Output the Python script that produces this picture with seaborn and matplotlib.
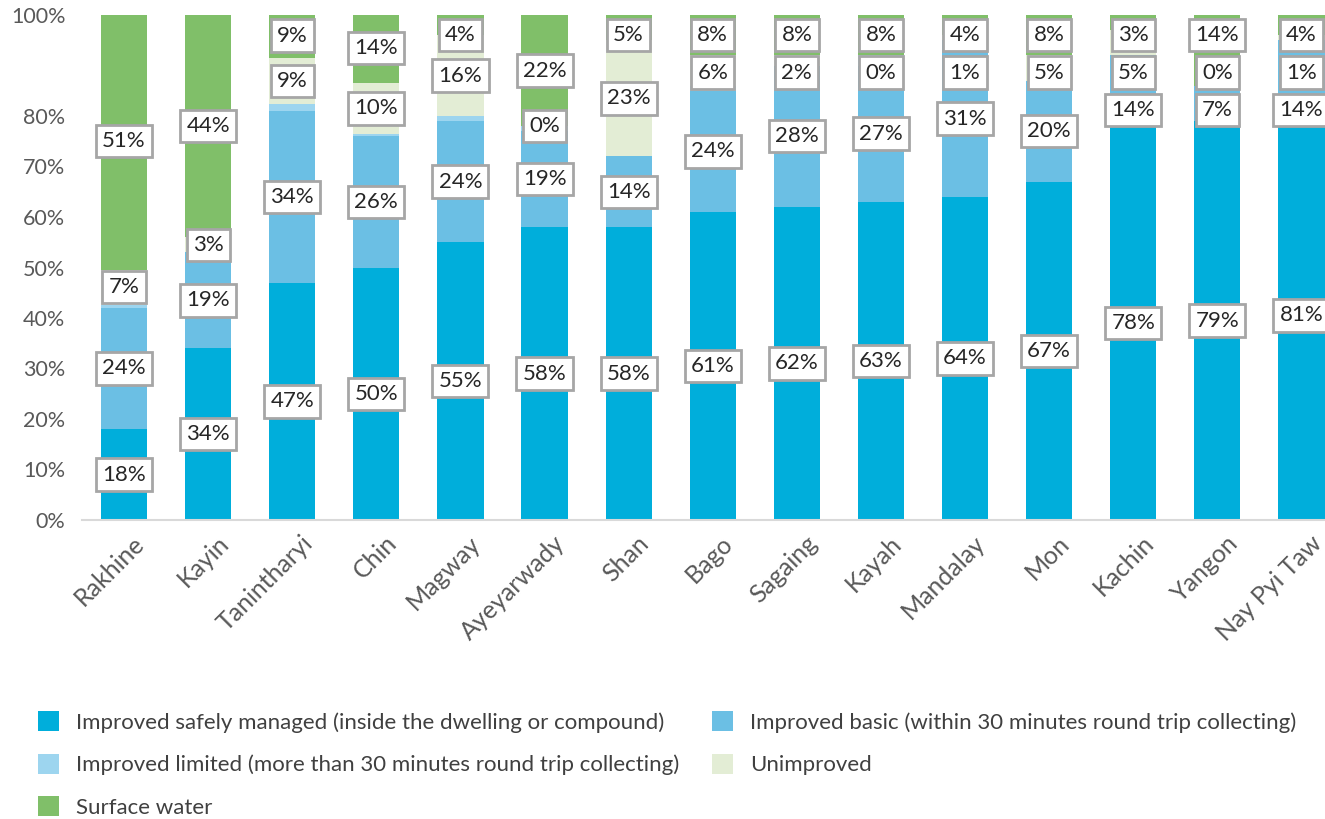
import numpy as np
import pandas as pd
import matplotlib
matplotlib.use("Agg")
import matplotlib.pyplot as plt
import matplotlib.transforms as mtransforms
from matplotlib.patches import Patch
import seaborn as sns

# Data (share of households by drinking water source, %)
regions = ["Rakhine", "Kayin", "Tanintharyi", "Chin", "Magway", "Ayeyarwady", "Shan",
           "Bago", "Sagaing", "Kayah", "Mandalay", "Mon", "Kachin", "Yangon", "Nay Pyi Taw"]
safely_managed = [18, 34, 47, 50, 55, 58, 58, 61, 62, 63, 64, 67, 78, 79, 81]
basic = [24, 19, 34, 26, 24, 19, 14, 24, 28, 27, 31, 20, 14, 7, 14]
limited = [0.6, 0, 1.4, 0.5, 1, 1, 0, 1, 0, 2, 0, 0, 0, 0, 0]   # not labelled, estimated
unimproved = [7, 3, 9, 10, 16, 0, 23, 6, 2, 0, 1, 5, 5, 0, 1]
surface_water = [51, 44, 9, 14, 4, 22, 5, 8, 8, 8, 4, 8, 3, 14, 4]

series_names = [
    "Improved safely managed (inside the dwelling or compound)",
    "Improved basic (within 30 minutes round trip collecting)",
    "Improved limited (more than 30 minutes round trip collecting)",
    "Unimproved",
    "Surface water",
]
colors = ["#00AEDB", "#6BBFE4", "#9DD5EF", "#E3EDD5", "#80BF69"]

sns.set_theme(style="white")
plt.rcParams["font.family"] = ["Lato", "DejaVu Sans"]

values = np.array([safely_managed, basic, limited, unimproved, surface_water], dtype=float)
cum = values.cumsum(axis=0)

fig = plt.figure(figsize=(13.25, 8.19), dpi=100)
ax = fig.add_axes([82 / 1325, 1 - 520 / 819, 1261.5 / 1325, 505 / 819])

# stacked bars: draw cumulative totals from the top series down
for k in range(len(series_names) - 1, -1, -1):
    df = pd.DataFrame({"region": regions, "value": cum[k]})
    sns.barplot(data=df, x="region", y="value", order=regions, color=colors[k],
                saturation=1, width=0.55, errorbar=None, ax=ax, linewidth=0)

ax.set_xlim(-0.5, len(regions) - 0.5)
ax.set_ylim(0, 100)
ax.set_xlabel("")
ax.set_ylabel("")

yt = [0, 10, 20, 30, 40, 50, 60, 70, 80, 100]
ax.set_yticks(yt)
ax.set_yticklabels([f"{t}%" for t in yt])
ax.tick_params(axis="y", length=0, pad=12, labelsize=15.5, labelcolor="#595959")
ax.tick_params(axis="x", length=0, pad=14, labelsize=18, labelcolor="#595959")
shift = mtransforms.ScaledTranslation(12 / 72, 0, fig.dpi_scale_trans)
for lbl in ax.get_xticklabels():
    lbl.set_rotation(45)
    lbl.set_ha("right")
    lbl.set_va("center")
    lbl.set_rotation_mode("anchor")
    lbl.set_transform(lbl.get_transform() + shift)

for side in ["top", "right", "left"]:
    ax.spines[side].set_visible(False)
ax.spines["bottom"].set_color("#D9D9D9")
ax.spines["bottom"].set_linewidth(1.5)

# data labels (limited is not labelled), nudged apart so the boxes do not overlap
labelled = [0, 1, 3, 4]
gap, top = 7.4, 96
for i in range(len(regions)):
    centers = [cum[k, i] - values[k, i] / 2 for k in labelled]
    for j in range(1, len(centers)):
        centers[j] = max(centers[j], centers[j - 1] + gap)
    centers[-1] = min(centers[-1], top)
    for j in range(len(centers) - 2, -1, -1):
        centers[j] = min(centers[j], centers[j + 1] - gap)
    for k, c in zip(labelled, centers):
        ax.text(i, c, f"{values[k, i]:g}%", ha="center", va="center", fontsize=16,
                color="#262626", zorder=5,
                bbox=dict(boxstyle="square,pad=0.28", fc="white", ec="#A6A6A6", lw=2))

handles = [Patch(facecolor=c, edgecolor="none") for c in colors]
order = [0, 2, 4, 1, 3]
fig.legend([handles[o] for o in order], [series_names[o] for o in order],
           loc="upper left", bbox_to_anchor=(18 / 1325, 1 - 691 / 819), ncol=2,
           frameon=False, fontsize=16, labelcolor="#404040",
           handlelength=0.95, handleheight=1.0, handletextpad=0.75,
           columnspacing=1.5, labelspacing=0.95)

fig.savefig("out.png", dpi=100)
